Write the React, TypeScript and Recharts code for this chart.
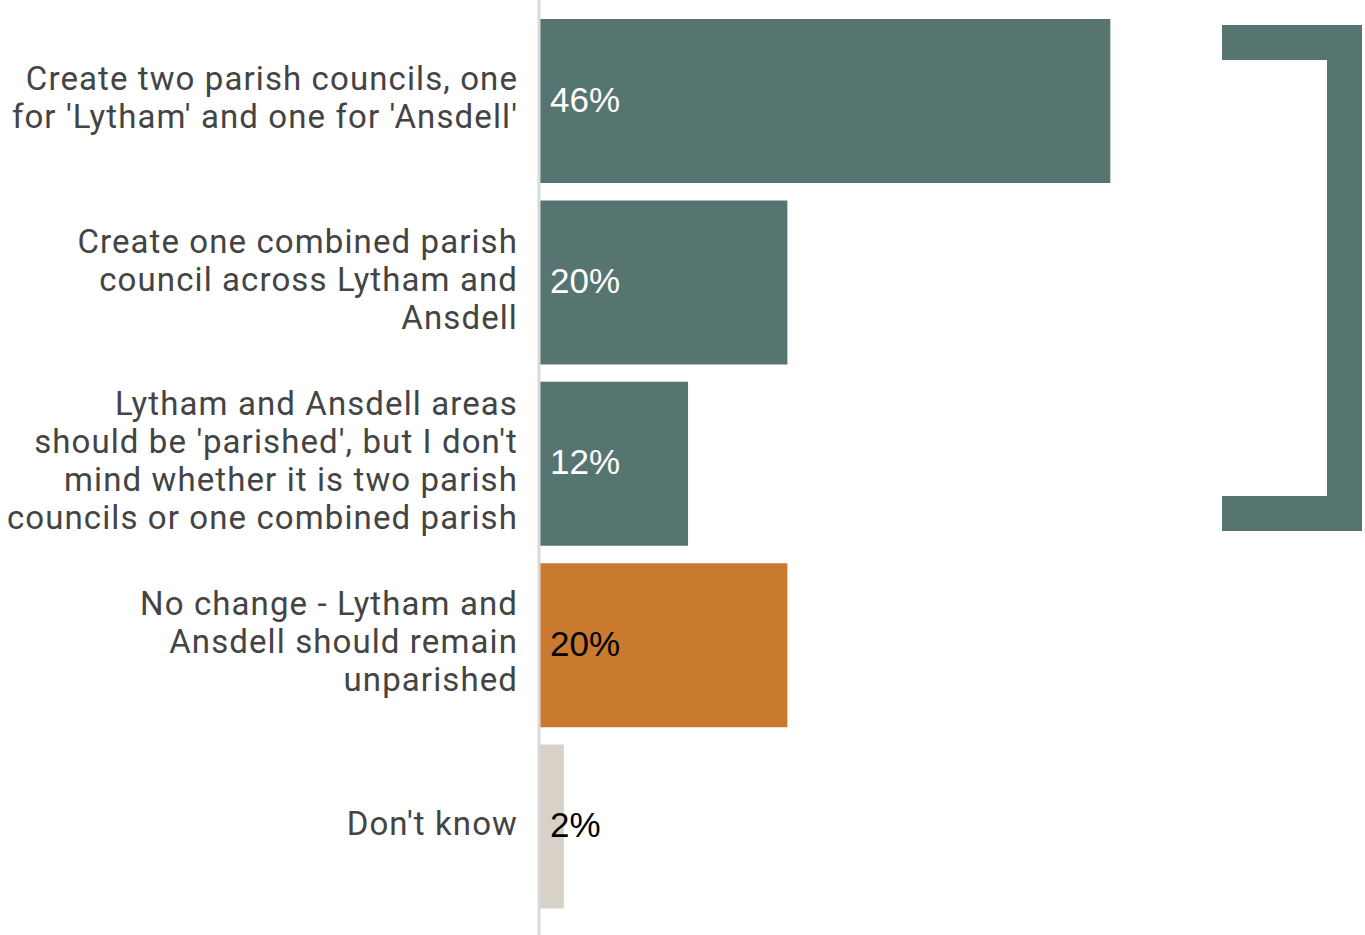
import React from "react";
import { BarChart, Bar, XAxis, YAxis, Cell, Customized } from "recharts";

const categories = [
  "Create two parish councils, one for 'Lytham' and one for 'Ansdell'",
  "Create one combined parish council across Lytham and Ansdell",
  "Lytham and Ansdell areas should be 'parished', but I don't mind whether it is two parish councils or one combined parish",
  "No change - Lytham and Ansdell should remain unparished",
  "Don't know",
];

const labelLines = [
  ["Create two parish councils, one", "for 'Lytham' and one for 'Ansdell'"],
  ["Create one combined parish", "council across Lytham and", "Ansdell"],
  ["Lytham and Ansdell areas", "should be 'parished', but I don't", "mind whether it is two parish", "councils or one combined parish"],
  ["No change - Lytham and", "Ansdell should remain", "unparished"],
  ["Don't know"],
];

const values = [46, 20, 12, 20, 2];

const barColors = ["#567571", "#567571", "#567571", "#C97A2E", "#D8D1C7"];
const valueColors = ["#ffffff", "#ffffff", "#ffffff", "#000000", "#000000"];

const data = categories.map((name, i) => ({ name, value: values[i], idx: i }));

const W = 1365;
const H = 935;
const TEAL = "#567571";

function CategoryTick(props: any) {
  const { x, y, payload } = props;
  const i = categories.indexOf(payload.value);
  const lines = labelLines[i] || [payload.value];
  const lh = 38;
  const start = y - 3 - ((lines.length - 1) * lh) / 2;
  const tx = x - 13;
  return (
    <text
      x={tx}
      y={start}
      textAnchor="end"
      fill="#444444"
      fontFamily="Roboto, sans-serif"
      fontSize={33}
      letterSpacing={1.1}
    >
      {lines.map((l, k) => (
        <tspan key={k} x={tx} y={start + k * lh} dominantBaseline="central">
          {l}
        </tspan>
      ))}
    </text>
  );
}

function ValueLabel(props: any) {
  const { x, y, height, value, index } = props;
  return (
    <text
      x={x + 11}
      y={y + height / 2 - 2}
      dominantBaseline="central"
      fill={valueColors[index]}
      fontFamily="'Liberation Sans', Arial, sans-serif"
      fontSize={35}
    >
      {value}%
    </text>
  );
}

// bracket grouping the three "parish" answers
function Bracket() {
  const left = 1222;
  const right = 1362;
  const top = 25;
  const bottom = 531;
  const t = 35;
  const d = `M${left},${top} H${right} V${bottom} H${left} V${bottom - t} H${right - t} V${top + t} H${left} Z`;
  return <path d={d} fill={TEAL} />;
}

export default function App() {
  return (
    <div style={{ position: "absolute", left: 0, top: 0, width: W, height: H, background: "#fff" }}>
      <BarChart
        width={W}
        height={H}
        data={data}
        layout="vertical"
        margin={{ top: 0, right: 205, bottom: 0, left: 0 }}
      >
        <XAxis type="number" domain={[0, 50]} hide />
        <YAxis
          type="category"
          dataKey="name"
          width={539}
          axisLine={{ stroke: "#d9d9d9", strokeWidth: 3 }}
          tickLine={false}
          tick={<CategoryTick />}
          padding={{ top: 10, bottom: 18 }}
          interval={0}
        />
        <Bar dataKey="value" barSize={164} isAnimationActive={false} label={<ValueLabel />}>
          {data.map((d, i) => (
            <Cell key={i} fill={barColors[i]} />
          ))}
        </Bar>
        <Customized component={<Bracket />} />
      </BarChart>
    </div>
  );
}
